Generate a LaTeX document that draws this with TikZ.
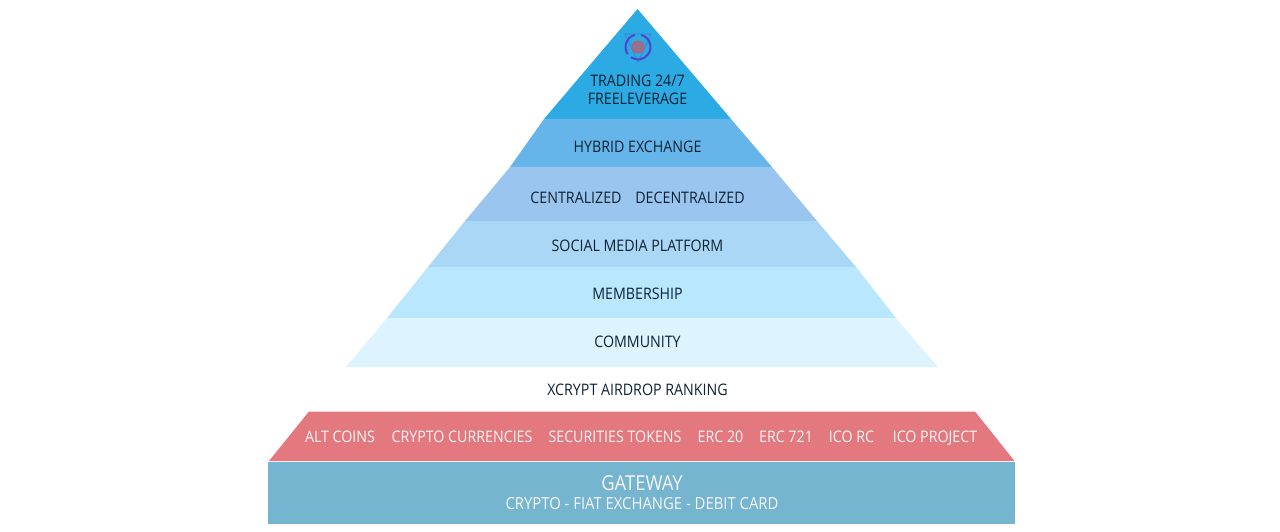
\documentclass[tikz,border=0pt]{standalone}
\usepackage{fontspec}
\setmainfont{Open Sans}[FakeStretch=0.895]
\definecolor{bandA}{HTML}{2BAAE4}
\definecolor{bandB}{HTML}{66B5EA}
\definecolor{bandC}{HTML}{9AC5EE}
\definecolor{bandD}{HTML}{ABD7F6}
\definecolor{bandE}{HTML}{B9E7FD}
\definecolor{bandF}{HTML}{DDF3FE}
\definecolor{roseband}{HTML}{E4787F}
\definecolor{gateband}{HTML}{76B5D0}
\definecolor{inkdark}{HTML}{0E2233}
\definecolor{ringblue}{HTML}{4F45C8}
\definecolor{hubred}{HTML}{B0647A}
\tikzset{
  bandtext/.style={text=inkdark,font=\fontsize{15.9}{17}\selectfont,inner sep=0pt,anchor=base},
  lighttext/.style={text=white!93!gray,font=\fontsize{15.9}{17}\selectfont,inner sep=0pt,anchor=base},
  ringarc/.style={ringblue,line width=2pt},
}
\begin{document}
\begin{tikzpicture}[x=1pt,y=-1pt]
\useasboundingbox (0,0) rectangle (1280,532);
% pyramid bands, top to bottom
\fill[bandA] (637.5,9) -- (731,119) -- (544,119) -- cycle;
\fill[bandB] (544,119) -- (731,119) -- (772,167) -- (510,167) -- cycle;
\fill[bandC] (510,167) -- (772,167) -- (817,221) -- (465,221) -- cycle;
\fill[bandD] (465,221) -- (817,221) -- (856,267) -- (428,267) -- cycle;
\fill[bandE] (428,267) -- (856,267) -- (896,318) -- (387,318) -- cycle;
\fill[bandF] (387,318) -- (896,318) -- (938,367) -- (346,367) -- cycle;
% lower tiers
\fill[roseband] (309,411.5) -- (975,411.5) -- (1014.5,461) -- (269,461) -- cycle;
\fill[gateband] (268,461.5) rectangle (1014.5,523.5);
% emblem in the apex
\draw[bandA!55!ringblue,line width=0.6pt] (625,34) -- (651,34) -- (638,62) -- cycle;
\draw[ringarc] (638,47) ++(-105:12.5) arc (-105:-215:12.5);
\draw[ringarc] (638,47) ++(-75:12.5) arc (-75:35:12.5);
\draw[ringarc] (638,47) ++(-235:12.5) arc (-235:-325:12.5);
\fill[hubred] (638,47) circle (6.5);
\draw[bandA!45!hubred,line width=0.8pt] (638,47) circle (4) (634,47) -- (642,47) (638,43) -- (638,51);
% labels
\node[bandtext] (apexa) at (637.5,86.5) {TRADING 24/7};
\node[bandtext] (apexb) at (637.5,105) {FREELEVERAGE};
\node[bandtext] (hybrid) at (637.5,152.5) {HYBRID EXCHANGE};
\node[bandtext] (central) at (576,203) {CENTRALIZED};
\node[bandtext] (decentral) at (690,203) {DECENTRALIZED};
\node[bandtext] (social) at (637.5,251) {SOCIAL MEDIA PLATFORM};
\node[bandtext] (member) at (637.5,299) {MEMBERSHIP};
\node[bandtext] (community) at (637.5,347) {COMMUNITY};
\node[bandtext] (ranking) at (637.5,395) {XCRYPT AIRDROP RANKING};
\node[lighttext] (alt) at (340,442) {ALT COINS};
\node[lighttext] (cur) at (462,442) {CRYPTO CURRENCIES};
\node[lighttext] (sec) at (615,442) {SECURITIES TOKENS};
\node[lighttext] (e20) at (720.5,442) {ERC 20};
\node[lighttext] (e721) at (786,442) {ERC 721};
\node[lighttext] (rc) at (851.5,442) {ICO RC};
\node[lighttext] (proj) at (935,442) {ICO PROJECT};
\node[lighttext,font=\fontsize{20.6}{21}\selectfont] (gate) at (642,490) {GATEWAY};
\node[lighttext,font=\fontsize{16.6}{17}\selectfont] (fiat) at (642,509) {CRYPTO - FIAT EXCHANGE - DEBIT CARD};
\end{tikzpicture}
\end{document}
